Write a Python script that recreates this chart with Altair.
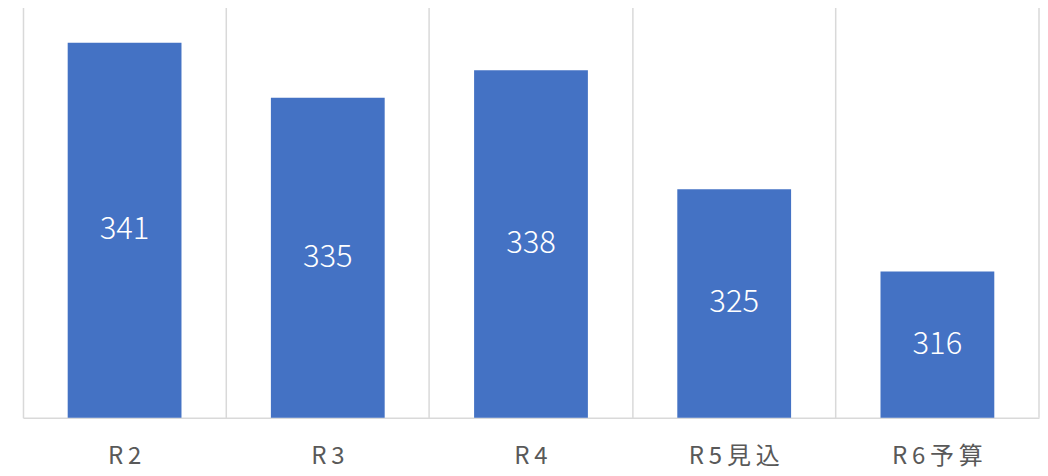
import altair as alt
import pandas as pd

categories = ["R2", "R3", "R4", "R5見込", "R6予算"]
values = [341, 335, 338, 325, 316]
y_min = 300
y_max = 345

df = pd.DataFrame({"cat": categories, "val": values})

p_inner = 0.44
p_outer = 0.22
edge_pos = (p_inner / 2) / (1 - p_inner)

base = alt.Chart(df)

x_enc = alt.X("cat:N", sort=categories,
              scale=alt.Scale(paddingInner=p_inner, paddingOuter=p_outer),
              axis=alt.Axis(title=None, labelAngle=0, labelFontSize=24,
                            labelFont="Noto Sans CJK JP", labelColor="#595959",
                            labelPadding=27, ticks=False, domain=True,
                            domainColor="#d9d9d9", domainWidth=1.5,
                            labelExpr="join(split(datum.label, ''), '\u2009')",
                            grid=True, gridColor="#d9d9d9", gridWidth=1.5,
                            bandPosition=-edge_pos))

bars = base.mark_bar(color="#4472C4").encode(
    x=x_enc,
    y=alt.Y("val:Q", scale=alt.Scale(domain=[y_min, y_max], nice=False, zero=False),
            axis=None),
    y2=alt.datum(y_min),
)

labels = base.transform_calculate(mid=f"(datum.val + {y_min}) / 2").mark_text(
    color="white", fontSize=31, font="Noto Sans CJK JP", fontWeight=300,
    baseline="middle",
).encode(
    x=alt.X("cat:N", sort=categories),
    y=alt.Y("mid:Q"),
    text=alt.Text("val:Q"),
)

edge = base.transform_filter(alt.datum.cat == categories[-1]).mark_rule(
    color="#d9d9d9", strokeWidth=1.5
).encode(
    x=alt.value("width"),
    y=alt.value(0),
    y2=alt.value("height"),
)

chart = alt.layer(bars, edge, labels).properties(
    width=1017, height=412,
    padding={"left": 15, "top": -3, "right": 0, "bottom": 2},
).configure_view(stroke=None)

chart.save("out.html", embed_options={"renderer": "svg", "actions": False})
